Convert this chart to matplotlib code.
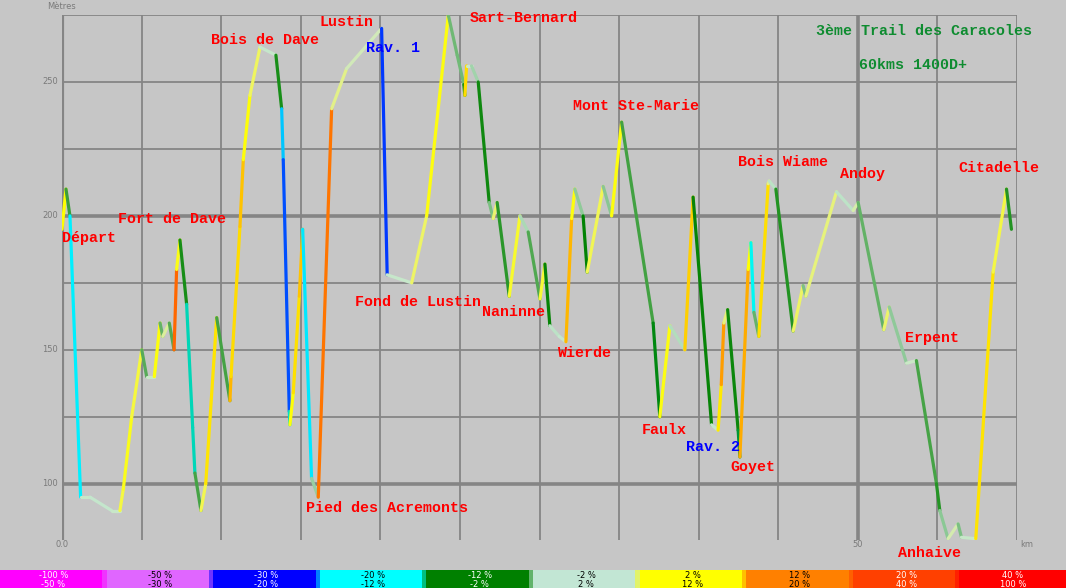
import numpy as np
import matplotlib
matplotlib.use("Agg")
import matplotlib.pyplot as plt
from matplotlib.collections import LineCollection

# Elevation profile: distance (km) and altitude (m)
km = [0.00, 0.25, 0.50, 1.17, 1.76, 3.12, 3.64, 3.85, 4.38, 5.01,
      5.32, 5.80, 6.16, 6.33, 6.74, 7.04, 7.20, 7.41, 7.83, 8.21,
      8.35, 8.73, 9.03, 9.72, 10.55, 10.62, 11.18, 11.39, 11.81, 12.44,
      13.44, 13.80, 13.90, 14.28, 14.32, 14.53, 14.91, 15.12, 15.68, 16.10,
      16.94, 17.88, 20.08, 20.43, 21.97, 22.91, 24.27, 24.83, 25.25, 25.31,
      25.42, 25.73, 26.15, 26.84, 27.09, 27.34, 28.10, 28.77, 29.29, 30.03,
      30.34, 30.65, 31.24, 31.66, 32.02, 32.22, 32.74, 33.00, 34.00, 34.53,
      35.16, 37.14, 37.56, 38.19, 39.13, 39.65, 40.81, 41.22, 41.42, 41.58,
      41.82, 42.48, 42.59, 43.11, 43.28, 43.47, 43.78, 44.37, 44.43, 44.85,
      45.94, 46.56, 46.73, 48.66, 49.71, 50.02, 51.63, 51.97, 53.06, 53.68,
      54.94, 55.15, 55.67, 56.30, 56.51, 57.41, 58.50, 59.34, 59.65]
alt = [195, 210, 200, 95, 95, 90, 90, 98, 125, 150,
       140, 140, 160, 155, 160, 150, 180, 191, 167, 121,
       104, 90, 100, 162, 131, 140, 196, 221, 245, 263,
       260, 240, 221, 127, 122, 134, 170, 195, 102, 95,
       240, 255, 270, 178, 175, 200, 275, 260, 249, 245,
       256, 256, 250, 205, 199, 205, 170, 200, 194, 169,
       182, 159, 155, 153, 199, 210, 200, 179, 211, 200,
       235, 160, 125, 159, 150, 207, 122, 120, 137, 160,
       165, 120, 110, 180, 190, 164, 155, 212, 213, 210,
       157, 174, 170, 209, 202, 205, 157.5, 166, 145, 146,
       100, 90, 79.5, 85, 80, 79.5, 179, 210, 195]

# Place names
place_names = ["Départ", "Fort de Dave", "Bois de Dave", "Lustin", "Sart-Bernard",
               "Mont Ste-Marie", "Fond de Lustin", "Naninne", "Wierde", "Faulx",
               "Goyet", "Bois Wiame", "Andoy", "Pied des Acremonts", "Erpent",
               "Citadelle", "Anhaive"]
place_km = [0.0, 3.52, 9.36, 16.2, 25.6, 32.1, 18.4, 26.4, 31.1, 36.4,
            42.0, 42.5, 48.9, 15.3, 52.95, 56.3, 52.5]
place_alt = [191.8, 198.9, 265.7, 272.4, 273.9, 241.0, 167.9, 164.2, 148.9, 120.0,
             106.3, 220.1, 215.7, 91.0, 154.5, 217.9, 74.3]
ravine_names = ["Rav. 1", "Rav. 2"]
ravine_km = [19.1, 39.2]
ravine_alt = [262.7, 113.8]

# Slope classes (%) for the colour bar
class_lo = [-100, -50, -30, -20, -12, -2, 2, 12, 20, 40]
class_hi = [-50, -30, -20, -12, -2, 2, 12, 20, 40, 100]
class_colors = ["#ff00ff", "#e066ff", "#0000ff", "#00ffff", "#008000",
                "#c2e6d4", "#ffff00", "#ff8000", "#ff4000", "#ff0000"]
class_text = ["white", "black", "white", "black", "white",
              "black", "black", "black", "white", "white"]

# colour ramp used for the profile (slope % -> rgb)
ramp_s = [-40, -30, -24, -18, -14, -11, -8, -5, -3.5, -2, -0.5, 0.5, 1.5, 3, 6, 10, 13, 16, 20, 40]
ramp_c = [(160, 60, 255), (0, 0, 255), (0, 90, 255), (0, 220, 255), (0, 255, 255),
          (0, 190, 140), (0, 128, 0), (30, 145, 30), (75, 165, 75), (140, 200, 150),
          (195, 230, 205), (205, 232, 195), (225, 240, 140), (240, 245, 90), (255, 255, 0),
          (255, 220, 0), (255, 180, 0), (255, 130, 0), (255, 90, 0), (255, 0, 0)]

bg = "#c6c6c6"
grid = "#858585"

fig = plt.figure(figsize=(10.66, 5.88), dpi=100, facecolor=bg)
ax = fig.add_axes([62 / 1066, 1 - 540 / 588, (1017 - 62) / 1066, (540 - 15) / 588])
ax.set_facecolor(bg)
ax.set_xlim(0, 60)
ax.set_ylim(79, 275)
for s in ax.spines.values():
    s.set_visible(False)
ax.set_xticks([])
ax.set_yticks([])

# grid
for y in range(100, 276, 25):
    ax.axhline(y, color=grid, lw=2.6 if y in (100, 200) else 1.3, zorder=1)
for x in range(5, 61, 5):
    ax.axvline(x, color=grid, lw=2.6 if x == 50 else 1.3, zorder=1)
ax.axvline(0, color=grid, lw=3.0, zorder=1)

# profile coloured by slope
x = np.array(km)
z = np.array(alt)
slope = np.diff(z) / (np.diff(x) * 1000) * 100
rc = np.array(ramp_c) / 255.0
cols = np.column_stack([np.interp(slope, ramp_s, rc[:, i]) for i in range(3)])
pts = np.column_stack([x, z]).reshape(-1, 1, 2)
segs = np.concatenate([pts[:-1], pts[1:]], axis=1)
lc = LineCollection(segs, colors=cols, linewidths=2.3, capstyle="round", zorder=3)
ax.add_collection(lc)

# axis labels
tk = dict(color="#7a7a7a", fontsize=6, family="DejaVu Sans")
for y in (250, 200, 150, 100):
    ax.text(-0.25, y, str(y), ha="right", va="center", **tk)
ax.text(0, 79, "0.0", ha="center", va="top", **tk)
ax.text(50, 79, "50", ha="center", va="top", **tk)
ax.text(60.6, 79, "km", ha="center", va="top", **tk)
ax.text(0, 276.5, "Mètres", ha="center", va="bottom", clip_on=False, **tk)

# place names
lab = dict(family="Liberation Mono", fontweight="bold", fontsize=10.8)
for name, px, py in zip(place_names, place_km, place_alt):
    ax.text(px, py, name, color="#ff0000", ha="left", va="center", clip_on=False, zorder=5, **lab)
for name, px, py in zip(ravine_names, ravine_km, ravine_alt):
    ax.text(px, py, name, color="#0000ff", ha="left", va="center", clip_on=False, zorder=5, **lab)

ax.text(47.4, 269, "3ème Trail des Caracoles", color="#0e8c30", ha="left", va="center", **lab)
ax.text(50.1, 256.3, "60kms 1400D+", color="#0e8c30", ha="left", va="center", **lab)

# colour bar at the bottom
cax = fig.add_axes([0, 0, 1, 18 / 588])
cax.set_xlim(0, len(class_lo))
cax.set_ylim(0, 1)
cax.axis("off")
for i, (lo, hi) in enumerate(zip(class_lo, class_hi)):
    cax.add_patch(plt.Rectangle((i, 0), 1, 1, color=class_colors[i], lw=0))
    if i < len(class_lo) - 1:
        a = np.array(matplotlib.colors.to_rgb(class_colors[i]))
        b = np.array(matplotlib.colors.to_rgb(class_colors[i + 1]))
        cax.add_patch(plt.Rectangle((i + 0.96, 0), 0.04, 1, color=(a + b) / 2, lw=0))
    cax.text(i + 0.5, 0.72, f"{lo} %", ha="center", va="center", fontsize=6, color=class_text[i])
    cax.text(i + 0.5, 0.22, f"{hi} %", ha="center", va="center", fontsize=6, color=class_text[i])

fig.savefig("out.png", dpi=100, facecolor=bg)
